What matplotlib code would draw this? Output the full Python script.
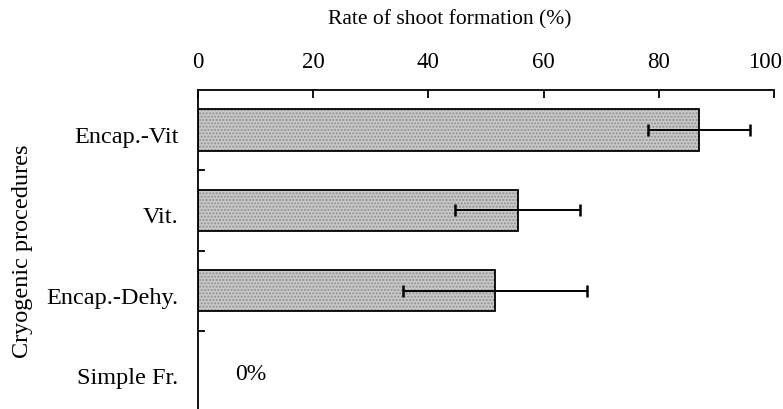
import matplotlib
matplotlib.use('Agg')
import matplotlib.pyplot as plt
import matplotlib.transforms as mtransforms
import numpy as np

# Values
procedures = ['Encap.-Vit', 'Vit.', 'Encap.-Dehy.', 'Simple Fr.']
rate       = [87.0, 55.5, 51.6, 0.0]
err        = [8.8, 10.9, 16.0, 0.0]
xticks     = [0, 20, 40, 60, 80, 100]

plt.rcParams['font.family'] = ['Liberation Serif', 'DejaVu Serif']

fig = plt.figure(figsize=(7.83, 4.10), dpi=100)
ax = fig.add_axes([198/783, -2/410, 576/783, 321/410])

ypos = np.arange(len(procedures))
# textured grey fill, then black outline on top
ax.barh(ypos[:3], rate[:3], height=0.52, color='#c9c9c9', edgecolor='#8f8f8f',
        hatch='.....', linewidth=0, zorder=1)
ax.barh(ypos[:3], rate[:3], height=0.52, fill=False, edgecolor='black',
        linewidth=1.3, zorder=2)
ax.errorbar(rate[:3], ypos[:3], xerr=err[:3], fmt='none', ecolor='black',
            elinewidth=1.4, capsize=4, capthick=1.8, zorder=3)

# the zero bar only gets a text
ax.text(6.4, ypos[3] + 0.03, '0%', fontsize=17, va='center', ha='left')

ax.set_xlim(0, 100)
ax.set_ylim(len(procedures) - 0.5, -0.5)

ax.xaxis.tick_top()
ax.xaxis.set_label_position('top')
ax.set_xticks(xticks)
ax.tick_params(axis='x', direction='in', length=6, width=1.3, pad=13, labelsize=16.5)
ax.set_xlabel('Rate of shoot formation (%)', fontsize=15.5, labelpad=20)
ax.xaxis.label.set_x(0.4375)

# last label "100" sits against the right edge, nudge it left a bit
last = ax.get_xticklabels()[-1]
last.set_transform(last.get_transform() + mtransforms.ScaledTranslation(-9/100, 0, fig.dpi_scale_trans))

ax.set_yticks(ypos)
ax.set_yticklabels(procedures)
ax.set_yticks(ypos[:-1] + 0.5, minor=True)
ax.tick_params(axis='y', which='major', length=0, pad=14, labelsize=17.5)
ax.tick_params(axis='y', which='minor', direction='in', length=5, width=1.3)
for lab in ax.get_yticklabels():
    lab.set_transform(lab.get_transform() + mtransforms.ScaledTranslation(0, -4/100, fig.dpi_scale_trans))
ax.set_ylabel('Cryogenic procedures', fontsize=17.5, labelpad=10)

ax.spines['right'].set_visible(False)
ax.spines['bottom'].set_visible(False)
ax.spines['top'].set_linewidth(1.3)
ax.spines['left'].set_linewidth(1.3)

fig.savefig('out.png', dpi=100)
